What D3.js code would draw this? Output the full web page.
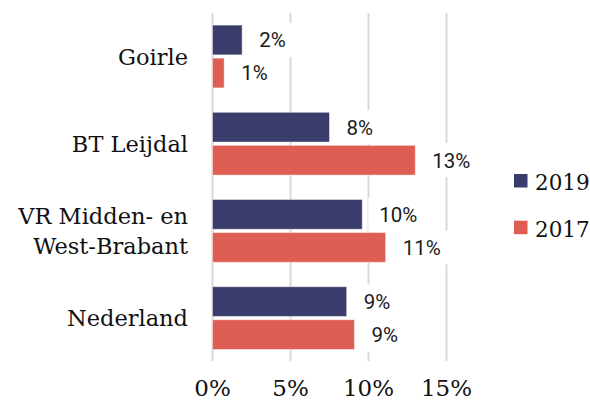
<!DOCTYPE html>
<html>
<head>
<meta charset="utf-8">
<script src="https://cdn.jsdelivr.net/npm/d3@7"></script>
<style>
  body { margin: 0; background: #fff; }
  svg { display: block; }
</style>
</head>
<body>
<div id="chart"></div>
<script>
// categories, top to bottom (third entry is split over two lines)
const categories = ['Goirle', 'BT Leijdal', 'VR Midden- en\nWest-Brabant', 'Nederland'];
const seriesNames = ['2019', '2017'];
const values2019 = [1.9, 7.5, 9.6, 8.6];
const values2017 = [0.75, 13.0, 11.1, 9.1];
const xTicks = [0, 5, 10, 15];
const colors = ['#3a3c6b', '#df5e53'];

let drawChart = function() {
    let width = 590, height = 403;
    let serif = '"DejaVu Serif", serif';
    let sans = 'Roboto, sans-serif';

    let svg = d3.select('#chart')
    .append('svg')
        .attr('width', width)
        .attr('height', height);

    // layers, bottom to top
    let gridG = svg.append('g');
    let boxG = svg.append('g');
    let barG = svg.append('g');
    let labelG = svg.append('g');

    let x = d3.scaleLinear()
        .domain([0, 15])
        .range([212.5, 446.5]);

    let y = d3.scaleBand()
        .domain(categories)
        .range([12.9, 361.7])
        .paddingInner(0.28)
        .paddingOuter(0.14);

    let ySub = d3.scaleBand()
        .domain(seriesNames)
        .range([0, y.bandwidth()])
        .paddingInner(0.1);

    // gridlines
    gridG.selectAll('line')
    .data(xTicks)
    .enter()
    .append('line')
        .attr('x1', d => x(d))
        .attr('x2', d => x(d))
        .attr('y1', 13)
        .attr('y2', 361)
        .attr('stroke', '#d9d9d9')
        .attr('stroke-width', 2);

    // one row per bar
    let rows = [];
    categories.forEach((c, i) => {
        rows.push({cat: c, series: '2019', value: values2019[i], color: colors[0]});
        rows.push({cat: c, series: '2017', value: values2017[i], color: colors[1]});
    });
    let rowY = d => y(d.cat) + ySub(d.series);

    // bars
    barG.selectAll('rect')
    .data(rows)
    .enter()
    .append('rect')
        .attr('x', x(0))
        .attr('y', d => rowY(d))
        .attr('width', d => x(d.value) - x(0))
        .attr('height', ySub.bandwidth())
        .attr('fill', d => d.color)
        .attr('stroke', 'rgba(255,255,255,0.45)')
        .attr('stroke-width', 1);

    // value labels with white boxes that cut the gridlines
    labelG.selectAll('text')
    .data(rows)
    .enter()
    .append('text')
        .attr('x', d => x(d.value) + 17)
        .attr('y', d => rowY(d) + ySub.bandwidth() / 2)
        .attr('dy', '0.36em')
        .style('font-family', sans)
        .style('font-size', '20.5px')
        .attr('fill', '#1a1a1a')
        .text(d => Math.round(d.value) + '%')
        .each(function(d) {
            let w = this.getComputedTextLength();
            boxG.append('rect')
                .attr('x', x(d.value) + 6)
                .attr('y', rowY(d) + ySub.bandwidth() / 2 - 17)
                .attr('width', w + 24)
                .attr('height', 34)
                .attr('fill', '#fff');
        });

    // category labels
    let catG = svg.append('g');
    categories.forEach(c => {
        let lines = c.split('\n');
        let cy = y(c) + y.bandwidth() / 2;
        let t = catG.append('text')
            .attr('text-anchor', 'end')
            .style('font-family', serif)
            .style('font-size', '22.5px')
            .attr('fill', '#111');
        lines.forEach((ln, j) => {
            t.append('tspan')
                .attr('x', 188)
                .attr('y', cy + (j - (lines.length - 1) / 2) * 30)
                .attr('dy', '0.36em')
                .text(ln);
        });
    });

    // x axis tick labels
    svg.append('g')
    .selectAll('text')
    .data(xTicks)
    .enter()
    .append('text')
        .attr('x', d => x(d))
        .attr('y', 396)
        .attr('text-anchor', 'middle')
        .style('font-family', serif)
        .style('font-size', '23px')
        .attr('fill', '#111')
        .text(d => d + '%');

    // legend
    let legend = svg.append('g')
    .selectAll('g')
    .data(seriesNames)
    .enter()
    .append('g')
        .attr('transform', (d, i) => 'translate(514,' + (174 + i * 46.7) + ')');
    legend.append('rect')
        .attr('width', 13.5)
        .attr('height', 13.5)
        .attr('fill', (d, i) => colors[i]);
    legend.append('text')
        .attr('x', 21)
        .attr('y', 16)
        .style('font-family', serif)
        .style('font-size', '21.5px')
        .attr('fill', '#111')
        .text(d => d);
}

drawChart();
</script>
</body>
</html>
